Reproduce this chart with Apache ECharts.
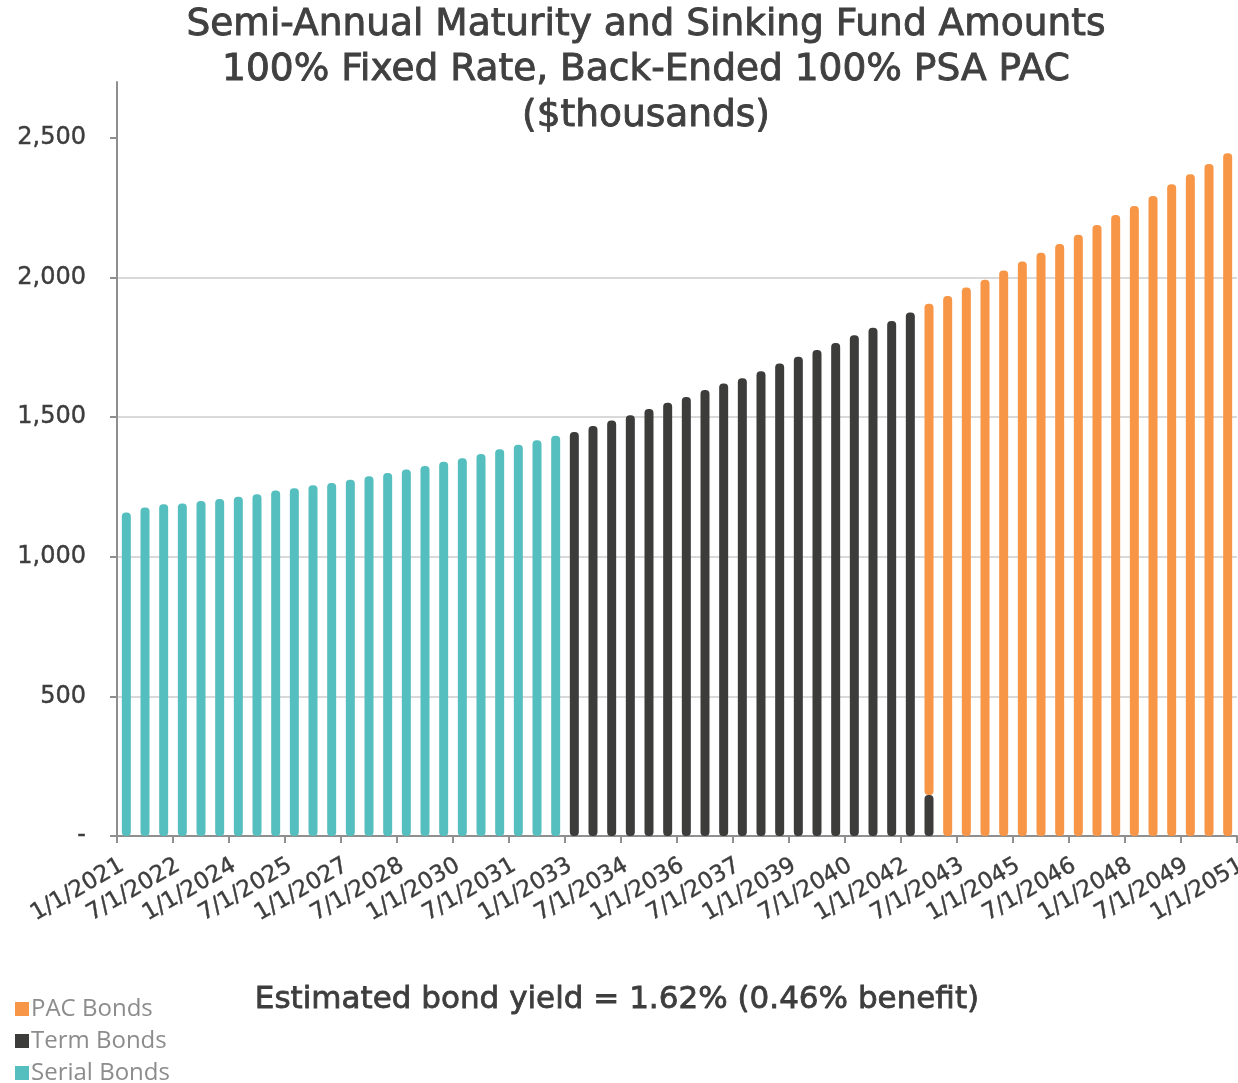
<!DOCTYPE html>
<html>
<head>
<meta charset="utf-8">
<title>Semi-Annual Maturity and Sinking Fund Amounts</title>
<script src="https://cdn.jsdelivr.net/npm/echarts@6/dist/echarts.min.js"></script>
<style>
  html, body { margin: 0; padding: 0; background: #ffffff; }
  #chart { width: 1238px; height: 1083px; }
</style>
</head>
<body>
<div id="chart"></div>
<script>
// Semi-annual payment dates (one bar per date)
const maturityDates = [
  '1/1/2021','7/1/2021','1/1/2022','7/1/2022','1/1/2023','7/1/2023','1/1/2024','7/1/2024',
  '1/1/2025','7/1/2025','1/1/2026','7/1/2026','1/1/2027','7/1/2027','1/1/2028','7/1/2028',
  '1/1/2029','7/1/2029','1/1/2030','7/1/2030','1/1/2031','7/1/2031','1/1/2032','7/1/2032',
  '1/1/2033','7/1/2033','1/1/2034','7/1/2034','1/1/2035','7/1/2035','1/1/2036','7/1/2036',
  '1/1/2037','7/1/2037','1/1/2038','7/1/2038','1/1/2039','7/1/2039','1/1/2040','7/1/2040',
  '1/1/2041','7/1/2041','1/1/2042','7/1/2042','1/1/2043','7/1/2043','1/1/2044','7/1/2044',
  '1/1/2045','7/1/2045','1/1/2046','7/1/2046','1/1/2047','7/1/2047','1/1/2048','7/1/2048',
  '1/1/2049','7/1/2049','1/1/2050','7/1/2050'
];

// Amounts in $thousands
const serialBonds = [1158,1176,1188,1191,1200,1207,1215,1224,1237,1245,1256,1264,
                     1276,1288,1300,1312,1325,1340,1353,1368,1385,1401,1417,1433];
const serialFirstDate = '1/1/2021';

const termBonds = [1447,1468,1488,1507,1529,1551,1572,1597,1620,1639,1664,1692,
                   1716,1740,1765,1793,1820,1844,1875,147];
const termFirstDate = '1/1/2033';

const pacBonds = [1759,1934,1964,1992,2025,2057,2089,2120,2153,2188,2224,2256,
                  2292,2334,2370,2406,2445];
const pacFirstDate = '7/1/2042';

// Axis tick labels (every third period boundary)
const xTickLabels = [
  '1/1/2021','7/1/2022','1/1/2024','7/1/2025','1/1/2027','7/1/2028','1/1/2030',
  '7/1/2031','1/1/2033','7/1/2034','1/1/2036','7/1/2037','1/1/2039','7/1/2040',
  '1/1/2042','7/1/2043','1/1/2045','7/1/2046','1/1/2048','7/1/2049','1/1/2051'
];
const yTicks = [0, 500, 1000, 1500, 2000, 2500];

const titleLines = [
  'Semi-Annual Maturity and Sinking Fund Amounts',
  '100% Fixed Rate, Back-Ended 100% PSA PAC',
  '($thousands)'
];
const yieldNote = 'Estimated bond yield = 1.62% (0.46% benefit)';

// Spread a tranche over the full date list (zero where it has no payment)
function seriesData(values, firstDate) {
  const start = maturityDates.indexOf(firstDate);
  return maturityDates.map((d, i) => {
    const k = i - start;
    return (k >= 0 && k < values.length) ? values[k] : 0;
  });
}

const periodsPerTick = maturityDates.length / (xTickLabels.length - 1);

const chart = echarts.init(document.getElementById('chart'), null, { renderer: 'canvas' });

const axisGray = '#8f8f8f';
const textFont = 'DejaVu Sans';
const darkText = '#3d3d3d';

const barCommon = {
  type: 'bar',
  stack: 'total',
  barWidth: 9,
  xAxisIndex: 0,
  yAxisIndex: 0,
  itemStyle: { borderRadius: 4 },
  emphasis: { disabled: true },
  silent: true
};

chart.setOption({
  animation: false,
  backgroundColor: '#ffffff',
  title: [
    {
      text: titleLines.join('\n'),
      left: 646,
      top: 2.5,
      textAlign: 'center',
      padding: 0,
      textStyle: {
        fontFamily: textFont,
        fontWeight: 'normal',
        fontSize: 37.5,
        lineHeight: 45.5,
        color: '#404040',
        textBorderColor: '#404040',
        textBorderWidth: 0.9
      }
    },
    {
      text: yieldNote,
      left: 617,
      top: 982,
      textAlign: 'center',
      padding: 0,
      textStyle: {
        fontFamily: textFont,
        fontWeight: 'normal',
        fontSize: 31,
        lineHeight: 36,
        color: darkText,
        textBorderColor: darkText,
        textBorderWidth: 0.8
      }
    }
  ],
  legend: {
    orient: 'vertical',
    left: 15,
    top: 997,
    height: 200,
    padding: 0,
    icon: 'rect',
    itemWidth: 14,
    itemHeight: 14,
    itemGap: 8,
    selectedMode: false,
    data: ['PAC Bonds', 'Term Bonds', 'Serial Bonds'],
    textStyle: {
      fontFamily: 'Open Sans',
      fontSize: 24,
      color: '#8c8c8c',
      padding: [0, 0, 0, -3]
    }
  },
  grid: {
    left: 117,
    right: 1,
    top: 82,
    bottom: 247,
    outerBoundsMode: 'none',
    containLabel: false
  },
  xAxis: [
    {
      // one band per payment date; carries the bars and the axis line
      type: 'category',
      data: maturityDates,
      boundaryGap: true,
      position: 'bottom',
      axisLine: { show: true, lineStyle: { color: axisGray, width: 2 } },
      axisTick: { show: false },
      axisLabel: { show: false },
      splitLine: { show: false }
    },
    {
      // period-boundary scale for the date ticks and labels
      type: 'value',
      min: 0,
      max: maturityDates.length,
      interval: periodsPerTick,
      position: 'bottom',
      splitLine: { show: false },
      axisLine: { show: false },
      axisTick: { show: true, length: 7, lineStyle: { color: axisGray, width: 2 } },
      axisLabel: {
        rotate: 30,
        margin: 31,
        padding: [0, -6, 0, 0],
        fontFamily: textFont,
        fontSize: 23,
        color: darkText,
        textBorderColor: darkText,
        textBorderWidth: 0.4,
        showMinLabel: true,
        showMaxLabel: true,
        hideOverlap: false,
        formatter: v => xTickLabels[Math.round(v / periodsPerTick)] || ''
      }
    }
  ],
  yAxis: {
    type: 'value',
    min: 0,
    max: 2700,
    interval: 500,
    axisLine: { show: true, lineStyle: { color: axisGray, width: 2 } },
    axisTick: {
      show: true,
      length: 7,
      customValues: yTicks,
      lineStyle: { color: axisGray, width: 2 }
    },
    splitLine: {
      show: true,
      showMaxLine: false,
      lineStyle: { color: '#d9d9d9', width: 2 }
    },
    axisLabel: {
      margin: 31,
      customValues: yTicks,
      fontFamily: textFont,
      fontSize: 24,
      color: darkText,
      textBorderColor: darkText,
      textBorderWidth: 0.4,
      formatter: v => v === 0 ? '-' : v.toLocaleString('en-US')
    }
  },
  series: [
    Object.assign({}, barCommon, {
      name: 'Serial Bonds',
      color: '#55bfc0',
      data: seriesData(serialBonds, serialFirstDate)
    }),
    Object.assign({}, barCommon, {
      name: 'Term Bonds',
      color: '#3c3c3b',
      data: seriesData(termBonds, termFirstDate)
    }),
    Object.assign({}, barCommon, {
      name: 'PAC Bonds',
      color: '#f79646',
      data: seriesData(pacBonds, pacFirstDate)
    })
  ]
});
</script>
</body>
</html>
